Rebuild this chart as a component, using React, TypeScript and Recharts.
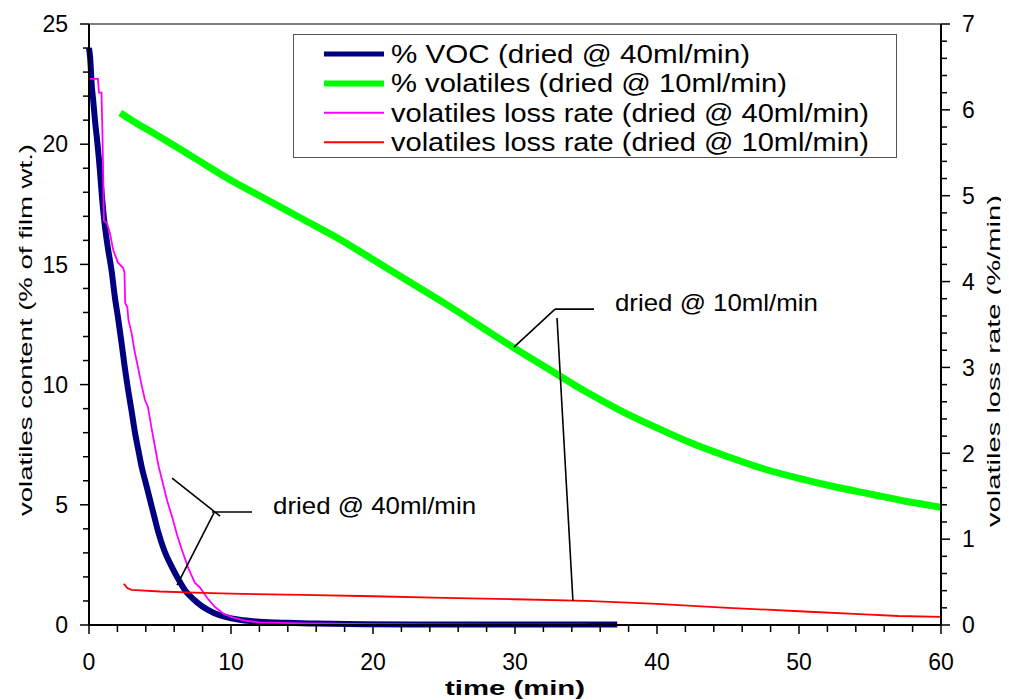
import React from 'react';
import { LineChart, Line, XAxis, YAxis, ReferenceLine, ReferenceDot, Legend } from 'recharts';

const FONT = '"Liberation Sans", Arial, Helvetica, sans-serif';

// time (min), % of film wt.
const vocData: [number, number][] = [
  [0, 24.0], [0.08, 23.6], [0.2, 22.4], [0.3, 21.8], [0.42, 21.0], [0.6, 20.0], [0.77, 18.9],
  [0.9, 17.9], [1.06, 16.9], [1.3, 15.8], [1.6, 14.7], [1.83, 13.6], [2.04, 12.8], [2.3, 11.7],
  [2.5, 10.8], [2.75, 9.8], [3.0, 8.9], [3.24, 8.0], [3.5, 7.2], [3.7, 6.6], [4.0, 5.9], [4.3, 5.2],
  [4.6, 4.5], [4.86, 3.9], [5.3, 3.1], [5.85, 2.4], [6.3, 1.9], [6.76, 1.45], [7.4, 1.05],
  [7.96, 0.78], [8.8, 0.5], [9.6, 0.34], [10.6, 0.22], [12, 0.14], [14, 0.09], [16, 0.06],
  [19.4, 0.03], [25, 0.02], [30, 0.02], [37.2, 0.02],
];

// time (min), % of film wt.
const volData: [number, number][] = [
  [2.2, 21.3], [3, 21.0], [5, 20.3], [7.5, 19.4], [10, 18.5], [12.5, 17.7], [15, 16.9], [17.5, 16.1],
  [20, 15.2], [22.5, 14.3], [25, 13.4], [27.5, 12.45], [30, 11.5], [32.5, 10.6], [35, 9.7],
  [37.5, 8.9], [40, 8.2], [42.5, 7.55], [45, 7.0], [47.5, 6.5], [50, 6.1], [52.5, 5.75], [55, 5.45],
  [57.5, 5.15], [60, 4.9],
];

// time (min), %/min
const rate40Data: [number, number][] = [
  [0, 6.36], [0.63, 6.36], [0.7, 6.2], [0.88, 6.2], [0.95, 5.7], [1.05, 4.71], [1.27, 4.68],
  [1.48, 4.56], [1.7, 4.37], [2.04, 4.22], [2.4, 4.16], [2.5, 4.1], [2.55, 3.75], [2.7, 3.7],
  [2.78, 3.55], [3.0, 3.4], [3.2, 3.2], [3.45, 3.0], [3.7, 2.8], [3.94, 2.62], [4.15, 2.54],
  [4.4, 2.3], [4.65, 2.07], [4.9, 1.85], [5.2, 1.65], [5.5, 1.45], [5.85, 1.26], [6.2, 1.05],
  [6.55, 0.87], [7.0, 0.66], [7.46, 0.49], [7.8, 0.44], [8.3, 0.32], [8.87, 0.21], [9.5, 0.13],
  [10.1, 0.09], [11, 0.05], [12, 0.03], [15, 0.02], [20, 0.01], [28, 0.005], [35.1, 0.005],
];

// time (min), %/min
const rate10Data: [number, number][] = [
  [2.45, 0.48], [2.5, 0.47], [2.7, 0.43], [3.0, 0.41], [5, 0.39], [8, 0.375], [10, 0.365],
  [15, 0.35], [20, 0.335], [25, 0.315], [30, 0.3], [35, 0.28], [40, 0.245], [45, 0.2],
  [50, 0.16], [55, 0.12], [57, 0.105], [60, 0.095],
];

const seriesNames = [
  '% VOC (dried @ 40ml/min)',
  '% volatiles (dried @ 10ml/min)',
  'volatiles loss rate (dried @ 40ml/min)',
  'volatiles loss rate (dried @ 10ml/min)',
];

const xTicks = Array.from({ length: 31 }, (_, i) => i * 2);
const xLabels = [0, 10, 20, 30, 40, 50, 60];
const leftTicks = Array.from({ length: 26 }, (_, i) => i);
const leftLabels = [0, 5, 10, 15, 20, 25];
const rightTicks = Array.from({ length: 36 }, (_, i) => Math.round(i * 2) / 10);
const rightLabels = [0, 1, 2, 3, 4, 5, 6, 7];

const annotationTexts = ['dried @ 40ml/min', 'dried @ 10ml/min'];

const toPoints = (arr: [number, number][]) => arr.map(([t, v]) => ({ t, v }));

const tickText = { fontFamily: FONT, fontSize: 23, fill: '#000' };

const XTick = (props: any) => {
  const { x, y, payload } = props;
  const major = xLabels.includes(payload.value);
  return (
    <g>
      <line x1={x} x2={x} y1={y} y2={y + (major ? 9 : 7)} stroke="#000" strokeWidth={1.5} />
      {major && (
        <text x={x} y={y + 37} dy="0.36em" textAnchor="middle" {...tickText}>
          {payload.value}
        </text>
      )}
    </g>
  );
};

const LeftTick = (props: any) => {
  const { x, y, payload } = props;
  const major = leftLabels.includes(payload.value);
  return (
    <g>
      <line x1={x - (major ? 9 : 6)} x2={x} y1={y} y2={y} stroke="#000" strokeWidth={1.5} />
      {major && (
        <text x={x - 21} y={y} dy="0.36em" textAnchor="end" {...tickText}>
          {payload.value}
        </text>
      )}
    </g>
  );
};

const RightTick = (props: any) => {
  const { x, y, payload } = props;
  const major = rightLabels.some((v) => Math.abs(v - payload.value) < 1e-6);
  return (
    <g>
      <line x1={x} x2={x + (major ? 9 : 6)} y1={y} y2={y} stroke="#000" strokeWidth={1.5} />
      {major && (
        <text x={x + 21} y={y} dy="0.36em" textAnchor="start" {...tickText}>
          {Math.round(payload.value)}
        </text>
      )}
    </g>
  );
};

const LeftTitle = () => (
  <text
    x={24}
    y={322}
    transform="rotate(-90 24 322)"
    textAnchor="middle"
    fontFamily={FONT}
    fontSize={19}
    fill="#000"
    textLength={372}
    lengthAdjust="spacingAndGlyphs"
  >
    volatiles content (% of film wt.)
  </text>
);

const RightTitle = () => (
  <text
    x={992}
    y={353}
    transform="rotate(-90 992 353)"
    textAnchor="middle"
    fontFamily={FONT}
    fontSize={19}
    fill="#000"
    textLength={332}
    lengthAdjust="spacingAndGlyphs"
  >
    volatiles loss rate (%/min)
  </text>
);

const XTitle = () => (
  <text
    x={507}
    y={687}
    textAnchor="middle"
    fontFamily={FONT}
    fontSize={21}
    fontWeight="bold"
    fill="#000"
    textLength={140}
    lengthAdjust="spacingAndGlyphs"
  >
    time (min)
  </text>
);

const legendWidths = [359, 396, 478, 478];
const legendStroke = [5, 6, 2, 2];

const LegendBox = (props: any) => {
  const payload = [...(props.payload || [])].sort(
    (a: any, b: any) => seriesNames.indexOf(a.value) - seriesNames.indexOf(b.value)
  );
  return (
    <svg width={604} height={124} style={{ display: 'block' }}>
      <rect x={0.5} y={0.5} width={603} height={123} fill="#fff" stroke="#555" strokeWidth={1} />
      {payload.map((e: any, i: number) => {
        const cy = 20 + i * 29.4;
        return (
          <g key={i}>
            <line x1={31} x2={91} y1={cy} y2={cy} stroke={e.color} strokeWidth={legendStroke[i]} />
            <text
              x={98}
              y={cy}
              dy="0.36em"
              fontFamily={FONT}
              fontSize={25}
              fill="#000"
              textLength={legendWidths[i]}
              lengthAdjust="spacingAndGlyphs"
            >
              {e.value}
            </text>
          </g>
        );
      })}
    </svg>
  );
};

const annotationShape = (label: string) => (p: any) => (
  <text
    x={p.cx}
    y={p.cy}
    dy="0.36em"
    fontFamily={FONT}
    fontSize={24}
    fill="#000"
    textLength={203}
    lengthAdjust="spacingAndGlyphs"
  >
    {label}
  </text>
);

const leader = { stroke: '#000', strokeWidth: 1.6 };

export default function App() {
  return (
    <div style={{ width: 1001, height: 692 }}>
      <LineChart width={1001} height={692} margin={{ top: 16, right: 0, bottom: 0, left: 0 }}>
        <XAxis
          dataKey="t"
          type="number"
          domain={[0, 60]}
          ticks={xTicks}
          interval={0}
          tickSize={0}
          tickMargin={0}
          tickLine={false}
          tick={<XTick />}
          height={75}
          axisLine={{ stroke: '#000', strokeWidth: 2 }}
          label={{ content: XTitle }}
        />
        <YAxis
          yAxisId="left"
          orientation="left"
          type="number"
          domain={[0, 25]}
          ticks={leftTicks}
          interval={0}
          tickSize={0}
          tickMargin={0}
          tickLine={false}
          tick={<LeftTick />}
          width={81}
          axisLine={{ stroke: '#000', strokeWidth: 2 }}
          label={{ content: LeftTitle }}
        />
        <YAxis
          yAxisId="right"
          orientation="right"
          type="number"
          domain={[0, 7]}
          ticks={rightTicks}
          interval={0}
          tickSize={0}
          tickMargin={0}
          tickLine={false}
          tick={<RightTick />}
          width={68}
          axisLine={{ stroke: '#000', strokeWidth: 2 }}
          label={{ content: RightTitle }}
        />
        <ReferenceLine yAxisId="left" y={25} stroke="#808080" strokeWidth={2} ifOverflow="visible" />
        <Line
          yAxisId="left"
          data={toPoints(vocData)}
          dataKey="v"
          name={seriesNames[0]}
          type="monotone"
          stroke="#000080"
          strokeWidth={6}
          dot={false}
          isAnimationActive={false}
        />
        <Line
          yAxisId="left"
          data={toPoints(volData)}
          dataKey="v"
          name={seriesNames[1]}
          type="monotone"
          stroke="#00FF00"
          strokeWidth={7}
          dot={false}
          isAnimationActive={false}
        />
        <Line
          yAxisId="right"
          data={toPoints(rate40Data)}
          dataKey="v"
          name={seriesNames[2]}
          type="linear"
          stroke="#FF00FF"
          strokeWidth={1.8}
          dot={false}
          isAnimationActive={false}
        />
        <Line
          yAxisId="right"
          data={toPoints(rate10Data)}
          dataKey="v"
          name={seriesNames[3]}
          type="linear"
          stroke="#FF0000"
          strokeWidth={1.8}
          dot={false}
          isAnimationActive={false}
        />
        <ReferenceLine yAxisId="left" segment={[{ x: 5.85, y: 6.11 }, { x: 9.23, y: 4.53 }]} {...leader} ifOverflow="visible" />
        <ReferenceLine yAxisId="left" segment={[{ x: 8.66, y: 4.7 }, { x: 11.48, y: 4.7 }]} {...leader} ifOverflow="visible" />
        <ReferenceLine yAxisId="left" segment={[{ x: 8.8, y: 4.66 }, { x: 6.2, y: 1.66 }]} {...leader} ifOverflow="visible" />
        <ReferenceLine yAxisId="left" segment={[{ x: 32.82, y: 13.14 }, { x: 35.56, y: 13.14 }]} {...leader} ifOverflow="visible" />
        <ReferenceLine yAxisId="left" segment={[{ x: 32.82, y: 13.14 }, { x: 29.93, y: 11.56 }]} {...leader} ifOverflow="visible" />
        <ReferenceLine yAxisId="left" segment={[{ x: 32.96, y: 12.77 }, { x: 34.08, y: 1.0 }]} {...leader} ifOverflow="visible" />
        <ReferenceDot yAxisId="left" x={12.96} y={4.99} r={0} ifOverflow="visible" shape={annotationShape(annotationTexts[0])} />
        <ReferenceDot yAxisId="left" x={37.04} y={13.44} r={0} ifOverflow="visible" shape={annotationShape(annotationTexts[1])} />
        <Legend
          layout="vertical"
          align="center"
          verticalAlign="middle"
          wrapperStyle={{ left: 285, top: 26, width: 604, height: 124 }}
          content={LegendBox}
        />
      </LineChart>
    </div>
  );
}
